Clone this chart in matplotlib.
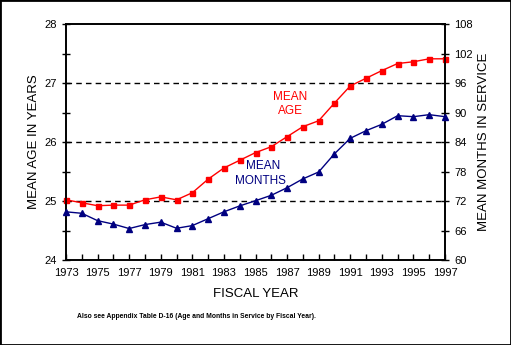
import matplotlib
matplotlib.use("Agg")
import matplotlib.pyplot as plt
from matplotlib.patches import Rectangle

plt.rcParams['font.family'] = ['Liberation Sans', 'DejaVu Sans']

years = list(range(1973, 1998))

# mean age of force (years), left axis
mean_age = [25.02, 24.97, 24.92, 24.93, 24.93, 25.02, 25.07, 25.02, 25.14,
            25.37, 25.56, 25.69, 25.82, 25.92, 26.09, 26.26, 26.36, 26.66,
            26.95, 27.08, 27.21, 27.33, 27.36, 27.41, 27.41]

# mean months in service, right axis
mean_months = [69.8, 69.5, 68.0, 67.3, 66.4, 67.2, 67.7, 66.45, 67.0,
               68.4, 69.8, 71.0, 72.06, 73.16, 74.7, 76.5, 77.9, 81.6,
               84.75, 86.3, 87.6, 89.35, 89.15, 89.56, 89.15]

year_labels = list(range(1973, 1998, 2))
age_ticks = [24, 25, 26, 27, 28]
month_ticks = list(range(60, 109, 6))

RED = '#ff0000'
NAVY = '#000080'

fig = plt.figure(figsize=(5.11, 3.45), dpi=100)
fig.patch.set_facecolor('white')
fig.patches.append(Rectangle((0, 0), 1, 1, transform=fig.transFigure,
                             fill=False, edgecolor='black', linewidth=2))

ax = fig.add_axes([66 / 511, 85 / 345, 379 / 511, 236 / 345])
ax2 = ax.twinx()

for y in [25, 26, 27]:
    ax.axhline(y, color='black', linestyle=(0, (4, 3)), linewidth=1, zorder=1)

ax.plot(years, mean_age, color=RED, linewidth=1, marker='s', markersize=3.6,
        zorder=3, clip_on=False)
ax2.plot(years, mean_months, color=NAVY, linewidth=1, marker='^', markersize=4.2,
         zorder=3, clip_on=False)

ax.set_xlim(1973, 1997)
ax.set_ylim(24, 28)
ax2.set_ylim(60, 108)

ax.set_xticks(years, minor=True)
ax.set_xticks(year_labels)
ax.set_xticklabels([str(y) for y in year_labels], fontsize=8)
ax.set_yticks(age_ticks)
ax.set_yticks([24.5, 25.5, 26.5, 27.5], minor=True)
ax.set_yticklabels([str(v) for v in age_ticks], fontsize=8)
ax2.set_yticks(month_ticks)
ax2.set_yticklabels([str(v) for v in month_ticks], fontsize=8)

ax.tick_params(axis='both', which='both', direction='inout', length=6,
               width=1, colors='black')
ax.tick_params(axis='x', which='both', direction='in', length=4)
ax.tick_params(axis='x', pad=6)
ax2.tick_params(axis='y', direction='inout', length=6, width=1)

for a in (ax, ax2):
    for s in a.spines.values():
        s.set_linewidth(1.2)
        s.set_color('black')

ax.set_xlabel('FISCAL YEAR', fontsize=9.5, labelpad=7)
ax.set_ylabel('MEAN AGE IN YEARS', fontsize=9.5, labelpad=3)
ax2.set_ylabel('MEAN MONTHS IN SERVICE', fontsize=9.5, rotation=90, labelpad=4)

ax.text(1987.2, 26.76, 'MEAN', color=RED, fontsize=8.5, ha='center', va='center')
ax.text(1987.2, 26.53, 'AGE', color=RED, fontsize=8.5, ha='center', va='center')
ax.text(1985.5, 25.59, 'MEAN', color=NAVY, fontsize=8.5, ha='center', va='center')
ax.text(1985.3, 25.34, 'MONTHS', color=NAVY, fontsize=8.5, ha='center', va='center')

fig.text(77 / 511, 1 - 316 / 345,
         'Also see Appendix Table D-16 (Age and Months in Service by Fiscal Year).',
         fontsize=4.9, fontweight='bold', ha='left', va='center')

fig.savefig('out.png', dpi=100)
